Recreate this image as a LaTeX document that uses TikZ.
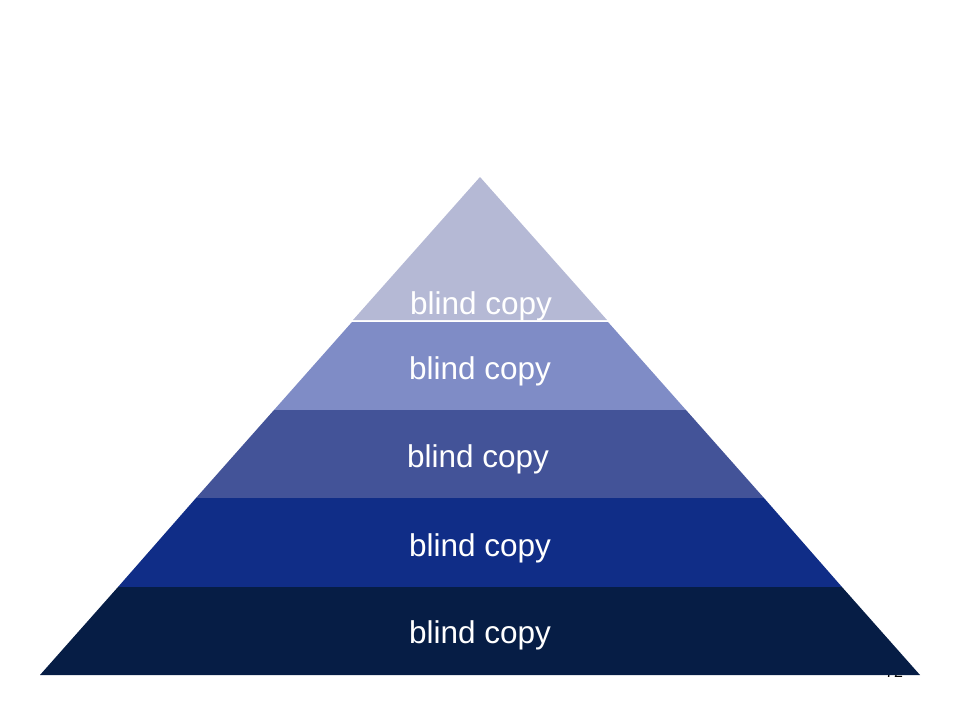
\documentclass[tikz,border=0pt]{standalone}
\usepackage{fontspec}
\setmainfont{Liberation Sans}
\definecolor{lay1}{HTML}{B5B9D5}
\definecolor{lay2}{HTML}{7F8CC6}
\definecolor{lay3}{HTML}{435398}
\definecolor{lay4}{HTML}{102D87}
\definecolor{lay5}{HTML}{061D45}
\begin{document}
\begin{tikzpicture}[x=1pt,y=-1pt,
  lbl/.style={text=white,font=\fontsize{31.5}{36}\selectfont,inner sep=0pt,anchor=base}]
\useasboundingbox (0,0) rectangle (960,720);
\node[anchor=base west,inner sep=0pt,font=\fontsize{16}{18}\selectfont] (pg) at (885,677) {72};
\fill[lay1] (480,177) -- (607,320) -- (353,320) -- cycle;
\fill[lay2] (352,322) -- (608,322) -- (686,410) -- (274,410) -- cycle;
\fill[lay3] (274,410) -- (686,410) -- (764,498) -- (196,498) -- cycle;
\fill[lay4] (196,498) -- (764,498) -- (842,587) -- (118,587) -- cycle;
\fill[lay5] (118,587) -- (842,587) -- (920,675) -- (40,675) -- cycle;
\node[lbl] (t1) at (481,314) {blind copy};
\node[lbl] (t2) at (480,379) {blind copy};
\node[lbl] (t3) at (478,467) {blind copy};
\node[lbl] (t4) at (480,556) {blind copy};
\node[lbl] (t5) at (480,643) {blind copy};
\end{tikzpicture}
\end{document}
